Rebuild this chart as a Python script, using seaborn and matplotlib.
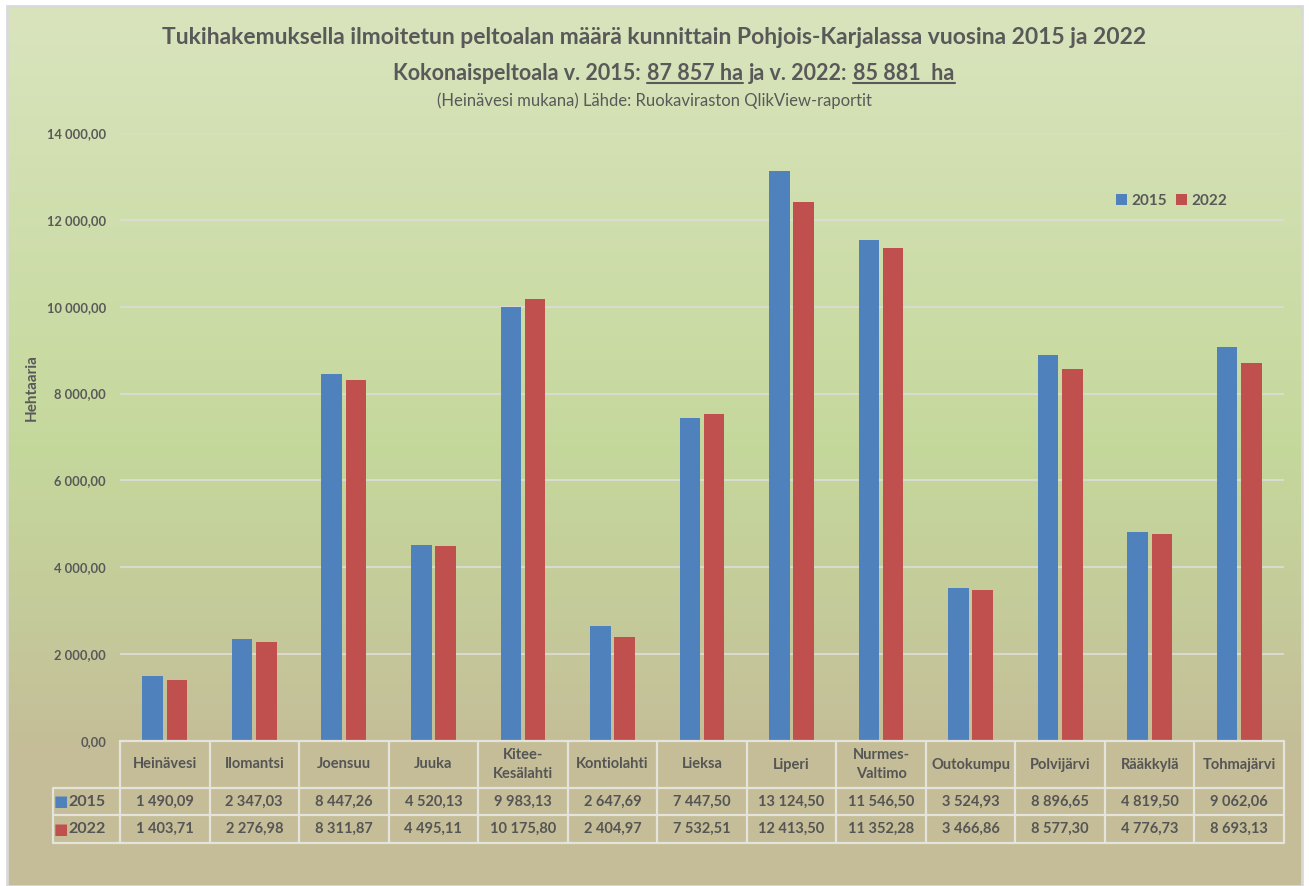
import numpy as np
import pandas as pd
import matplotlib.pyplot as plt
from matplotlib.colors import LinearSegmentedColormap
from matplotlib.patches import Rectangle
from matplotlib.ticker import FuncFormatter
import seaborn as sns

# data
kunnat = ["Heinävesi", "Ilomantsi", "Joensuu", "Juuka", "Kitee-\nKesälahti", "Kontiolahti",
          "Lieksa", "Liperi", "Nurmes-\nValtimo", "Outokumpu", "Polvijärvi", "Rääkkylä", "Tohmajärvi"]
ala_2015 = [1490.09, 2347.03, 8447.26, 4520.13, 9983.13, 2647.69, 7447.50,
            13124.50, 11546.50, 3524.93, 8896.65, 4819.50, 9062.06]
ala_2022 = [1403.71, 2276.98, 8311.87, 4495.11, 10175.80, 2404.97, 7532.51,
            12413.50, 11352.28, 3466.86, 8577.30, 4776.73, 8693.13]
vuodet = ["2015", "2022"]
varit = ["#4f81bd", "#c0504d"]
y_ticks = np.arange(0, 14001, 2000)

sns.set_theme(style="white")
plt.rcParams["font.family"] = ["Lato", "DejaVu Sans"]
harmaa = "#595959"

W, H = 1309, 886
fig = plt.figure(figsize=(W / 100, H / 100), dpi=100)
fig.patch.set_facecolor("white")


def fx(px):
    return px / W


def fy(py):
    return 1 - py / H


def fi(v):
    # 1 490,09 -tyylinen muotoilu
    return f"{v:,.2f}".replace(",", " ").replace(".", ",")


# taustan liukuväri
bg = fig.add_axes([fx(7), 0, fx(1302) - fx(7), fy(6)])
cmap = LinearSegmentedColormap.from_list(
    "bg", [(0, "#d9e4bd"), (0.5, "#c5d89c"), (0.7, "#c4ca9a"), (0.85, "#c4bd97"), (1, "#c4bd97")])
bg.imshow(np.linspace(0, 1, 256).reshape(-1, 1), aspect="auto", cmap=cmap, extent=[0, 1, 0, 1])
bg.axis("off")
fig.patches.append(Rectangle((fx(7), 0), fx(1302) - fx(7), fy(6), transform=fig.transFigure,
                             fill=False, edgecolor="#d9d9d9", lw=2))

# pylväät
ax = fig.add_axes([fx(120), fy(741), fx(1284) - fx(120), fy(133) - fy(741)])
ax.set_facecolor("none")
df = pd.DataFrame({"Kunta": kunnat * 2,
                   "Vuosi": [vuodet[0]] * len(kunnat) + [vuodet[1]] * len(kunnat),
                   "Ala": ala_2015 + ala_2022})
sns.barplot(data=df, x="Kunta", y="Ala", hue="Vuosi", palette=varit, saturation=1,
            width=0.54, gap=0.15, errorbar=None, ax=ax, zorder=3, linewidth=0)

ax.set_ylim(0, 14000)
ax.set_xlim(-0.5, len(kunnat) - 0.5)
ax.set_yticks(y_ticks)
ax.yaxis.set_major_formatter(FuncFormatter(lambda v, p: fi(v)))
ax.yaxis.grid(True, color="#dcdcd4", lw=1.3)
ax.set_axisbelow(True)
for s in ax.spines.values():
    s.set_visible(False)
ax.tick_params(axis="x", length=0, labelbottom=False)
ax.tick_params(axis="y", length=0, pad=10, labelsize=9.3, labelcolor=harmaa)
for t in ax.get_yticklabels():
    t.set_fontweight("bold")
ax.set_xlabel("")
ax.set_ylabel("")

ax.legend(frameon=False, ncol=2, loc="center", bbox_to_anchor=(fx(1172), fy(201)),
          bbox_transform=fig.transFigure, handlelength=0.7, handleheight=0.7,
          handletextpad=0.3, columnspacing=0.6, labelcolor=harmaa,
          prop={"weight": "bold", "size": 11})

# taulukko pylväiden alla
tr = ax.get_xaxis_transform()
ph = 608.0
h1, h2, h3 = -47 / ph, -74 / ph, -102 / ph
xl = -0.5 - 67 / 89.5
xr = len(kunnat) - 0.5
viiva = dict(color="#e4e4dc", lw=1.6, transform=tr, clip_on=False, zorder=4)
ax.plot([-0.5, xr], [0, 0], **viiva)
for yy in (h1, h2, h3):
    ax.plot([xl, xr], [yy, yy], **viiva)
for i in range(len(kunnat) + 1):
    ax.plot([i - 0.5, i - 0.5], [0, h3], **viiva)
ax.plot([xl, xl], [h1, h3], **viiva)

teksti = dict(transform=tr, ha="center", va="center", color="#555555", fontsize=10.5,
              fontweight="bold", clip_on=False)
for i, k in enumerate(kunnat):
    ax.text(i, (0 + h1) / 2, k, linespacing=1.45, **teksti)
    ax.text(i, (h1 + h2) / 2, fi(ala_2015[i]), **teksti)
    ax.text(i, (h2 + h3) / 2, fi(ala_2022[i]), **teksti)
for yy, v, c in ((h1 + h2) / 2, vuodet[0], varit[0]), ((h2 + h3) / 2, vuodet[1], varit[1]):
    ax.text(xl + 0.09, yy, "■", transform=tr, ha="center", va="center", color=c,
            fontsize=11, family="DejaVu Sans", clip_on=False)
    ax.text(xl + 0.17, yy, v, transform=tr, ha="left", va="center", color="#555555",
            fontsize=11.5, fontweight="bold", clip_on=False)

fig.text(fx(32), fy(388), "Hehtaaria", rotation=90, ha="center", va="center",
         fontsize=11, fontweight="bold", color=harmaa)

# otsikot
fig.text(fx(654), fy(38), "Tukihakemuksella ilmoitetun peltoalan määrä kunnittain "
         "Pohjois-Karjalassa vuosina 2015 ja 2022", ha="center", va="center",
         fontsize=16.5, fontweight="bold", color=harmaa)
osat = ["Kokonaispeltoala v. 2015:", "87 857 ha", "ja v. 2022:", "85 881  ha"]
alla = [False, True, False, True]
koko2 = 15.5
kpl = [fig.text(fx(403), fy(80), osat[0], ha="left", va="baseline",
                fontsize=koko2, fontweight="bold", color=harmaa)]
for o in osat[1:]:
    kpl.append(plt.annotate(o, xy=(1, 0), xycoords=kpl[-1], xytext=(4.3, 0),
                            textcoords="offset points", va="bottom", ha="left",
                            fontsize=koko2, fontweight="bold", color=harmaa,
                            annotation_clip=False))
fig.canvas.draw()
r = fig.canvas.get_renderer()
x0 = kpl[0].get_window_extent(r).x0
x1 = kpl[-1].get_window_extent(r).x1
kpl[0].set_x(fx(674) - (x1 - x0) / 2 / W)
fig.canvas.draw()
for t, u in zip(kpl, alla):
    if u:
        bb = t.get_window_extent(r)
        fig.add_artist(plt.Line2D([bb.x0 / W, bb.x1 / W], [(bb.y0 + 1) / H] * 2,
                                  color=harmaa, lw=1.5, transform=fig.transFigure))

fig.text(fx(654), fy(101), "(Heinävesi mukana) Lähde: Ruokaviraston QlikView-raportit",
         ha="center", va="center", fontsize=12, color=harmaa)

fig.savefig("out.png", dpi=100)
